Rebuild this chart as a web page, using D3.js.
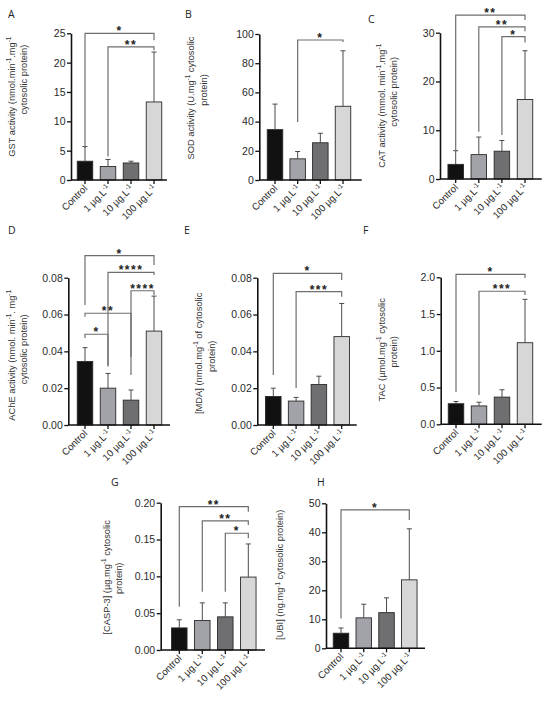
<!DOCTYPE html>
<html>
<head>
<meta charset="utf-8">
<script src="https://cdn.jsdelivr.net/npm/d3@7"></script>
<style>
  body { margin: 0; background: #fff; }
  svg { display: block; }
</style>
</head>
<body>
<div id="chart"></div>
<script>
// groups on the x axis (^{..} marks a superscript)
var groups = ["Control", "1 µg.L^{-1}", "10 µg.L^{-1}", "100 µg.L^{-1}"];
var barColors = ["#111111", "#a2a2a9", "#6f6f72", "#d7d7d7"];

// means and SD (upper error)
var gstMean = [3.2, 2.3, 2.9, 13.3];
var gstErr = [2.5, 1.2, 0.3, 8.5];
var sodMean = [34.5, 14.5, 25.5, 50.5];
var sodErr = [17.5, 5.0, 6.5, 38.0];
var catMean = [3.0, 5.0, 5.7, 16.3];
var catErr = [2.8, 3.6, 2.2, 10.0];
var acheMean = [0.0345, 0.020, 0.0135, 0.051];
var acheErr = [0.0075, 0.008, 0.0055, 0.019];
var mdaMean = [0.0155, 0.013, 0.022, 0.048];
var mdaErr = [0.0045, 0.002, 0.0045, 0.018];
var tacMean = [0.28, 0.25, 0.37, 1.11];
var tacErr = [0.03, 0.05, 0.10, 0.59];
var caspMean = [0.030, 0.040, 0.045, 0.099];
var caspErr = [0.011, 0.024, 0.019, 0.045];
var ubiMean = [5.2, 10.5, 12.3, 23.6];
var ubiErr = [1.8, 4.7, 5.1, 17.6];

// y tick values
var gstTicks = [0, 5, 10, 15, 20, 25];
var sodTicks = [0, 20, 40, 60, 80, 100];
var catTicks = [0, 10, 20, 30];
var acheTicks = [0, 0.02, 0.04, 0.06, 0.08];
var mdaTicks = [0, 0.02, 0.04, 0.06, 0.08];
var tacTicks = [0, 0.5, 1.0, 1.5, 2.0];
var caspTicks = [0, 0.05, 0.10, 0.15, 0.20];
var ubiTicks = [0, 10, 20, 30, 40, 50];

// significance comparisons [from group, to group, stars]
var gstSig = [[0, 3, "*"], [1, 3, "**"]];
var sodSig = [[1, 3, "*"]];
var catSig = [[0, 3, "**"], [1, 3, "**"], [2, 3, "*"]];
var acheSig = [[0, 3, "*"], [1, 3, "****"], [2, 3, "****"], [0, 2, "**"], [0, 1, "*"]];
var mdaSig = [[0, 3, "*"], [1, 3, "***"]];
var tacSig = [[0, 3, "*"], [1, 3, "***"]];
var caspSig = [[0, 3, "**"], [1, 3, "**"], [2, 3, "*"]];
var ubiSig = [[0, 3, "*"]];

var svg = d3.select("#chart").append("svg")
  .attr("width", 550)
  .attr("height", 705);

// panel layout: axis x, first/last bar centre, axis end, y top/bottom (px)
// brackets: [level, left leg end, right leg end] in data units
var panels = [
  { letter: "A", lx: 8, ly: 18, mean: gstMean, err: gstErr, ticks: gstTicks, fmt: "d", sig: gstSig,
    ax: 71, c0: 85, c3: 154, aend: 167, top: 33.3, bot: 180,
    br: [[25, 5.45, 23.8], [22.7, 4.0, 22.1]],
    title: ["GST activity (nmol.min^{-1}.mg^{-1}", "cytosolic protein)"], tx: [15, 27], tdy: [-10, -27] },
  { letter: "B", lx: 185, ly: 18, mean: sodMean, err: sodErr, ticks: sodTicks, fmt: "d", sig: sodSig,
    ax: 259.3, c0: 275, c3: 343, aend: 361.7, top: 34, bot: 180,
    br: [[95.9, 39.7, 94.5]],
    title: ["SOD activity (U.mg^{-1} cytosolic", "protein)"], tx: [194, 206.7], tdy: [-9, -17] },
  { letter: "C", lx: 368, ly: 23, mean: catMean, err: catErr, ticks: catTicks, fmt: "d", sig: catSig,
    ax: 440, c0: 455.7, c3: 525, aend: 541.7, top: 32.7, bot: 179,
    br: [[33.6, 5.6, 32.6], [31.2, 9.7, 30.3], [29.2, 9.0, 28.0]],
    title: ["CAT activity (mmol. min^{-1}.mg^{-1}", "cytosolic protein)"], tx: [385, 397], tdy: [0, -14] },
  { letter: "D", lx: 8, ly: 234, mean: acheMean, err: acheErr, ticks: acheTicks, fmt: ".2f", sig: acheSig,
    ax: 68.3, c0: 85, c3: 154, aend: 170, top: 277.7, bot: 425,
    br: [[0.0920, 0.0652, 0.0869], [0.0829, 0.0317, 0.0815], [0.0729, 0.0272, 0.0706],
         [0.0607, 0.0588, 0.0371], [0.0493, 0.0473, 0.0326]],
    title: ["AChE activity (nmol. min^{-1}. mg^{-1}", "cytosolic protein)"], tx: [15, 27], tdy: [4, -2] },
  { letter: "E", lx: 184, ly: 234, mean: mdaMean, err: mdaErr, ticks: mdaTicks, fmt: ".2f", sig: mdaSig,
    ax: 257.3, c0: 273.3, c3: 341.7, aend: 356.7, top: 277.7, bot: 425,
    br: [[0.0824, 0.0272, 0.0788], [0.0724, 0.0201, 0.0697]],
    title: ["[MDA] (nmol.mg^{-1} of cytosolic", "protein)"], tx: [201.7, 215], tdy: [2, 5] },
  { letter: "F", lx: 363, ly: 234, mean: tacMean, err: tacErr, ticks: tacTicks, fmt: ".1f", sig: tacSig,
    ax: 440.7, c0: 456, c3: 525, aend: 541.7, top: 277.3, bot: 424.3,
    br: [[2.04, 0.44, 1.99], [1.81, 0.40, 1.76]],
    title: ["TAC (µmol.mg^{-1} cytosolic", "protein)"], tx: [385, 397], tdy: [-1, 1] },
  { letter: "G", lx: 111, ly: 486, mean: caspMean, err: caspErr, ticks: caspTicks, fmt: ".2f", sig: caspSig,
    ax: 160.7, c0: 179.3, c3: 248.3, aend: 265, top: 502.7, bot: 650,
    br: [[0.1946, 0.0588, 0.1878], [0.1752, 0.0792, 0.1697], [0.1585, 0.0792, 0.1517]],
    title: ["[CASP-3] (µg.mg^{-1} cytosolic", "protein)"], tx: [110, 121.7], tdy: [1, 2] },
  { letter: "H", lx: 317, ly: 486, mean: ubiMean, err: ubiErr, ticks: ubiTicks, fmt: "d", sig: ubiSig,
    ax: 326, c0: 341, c3: 409.3, aend: 425, top: 503.3, bot: 648.3,
    br: [[47.7, 10.3, 44.2]],
    title: ["[UBI] (ng.mg^{-1} cytosolic protein)"], tx: [283.3], tdy: [-1] }
];

var barWidth = 15.5;
var tickFont = "'Liberation Sans', Arial, sans-serif";

// writes text with ^{..} parts raised as superscripts
function richText(sel, str, size) {
  var parts = str.split(/(\^\{[^}]*\})/).filter(function(s) { return s.length; });
  var raised = false;
  parts.forEach(function(p) {
    var isSup = p.indexOf("^{") === 0;
    var t = sel.append("tspan").text(isSup ? p.slice(2, -1) : p);
    if (isSup) {
      t.attr("font-size", size * 0.68).attr("dy", -size * 0.38);
      raised = true;
    } else {
      t.attr("font-size", size);
      if (raised) { t.attr("dy", size * 0.38); raised = false; }
    }
  });
}

panels.forEach(function(p) {
  var g = svg.append("g");

  var x = d3.scalePoint().domain(d3.range(groups.length)).range([p.c0, p.c3]);
  var y = d3.scaleLinear()
    .domain([p.ticks[0], p.ticks[p.ticks.length - 1]])
    .range([p.bot, p.top]);

  // panel letter
  g.append("text")
    .attr("x", p.lx).attr("y", p.ly)
    .attr("font-family", "'Open Sans', sans-serif")
    .attr("font-size", 10.5)
    .attr("fill", "#222")
    .text(p.letter);

  // bars
  g.selectAll("rect.bar")
    .data(p.mean)
    .enter().append("rect")
    .attr("class", "bar")
    .attr("x", function(d, i) { return x(i) - barWidth / 2; })
    .attr("y", function(d) { return y(d); })
    .attr("width", barWidth)
    .attr("height", function(d) { return p.bot - y(d); })
    .attr("fill", function(d, i) { return barColors[i]; })
    .attr("stroke", "#2a2a2a")
    .attr("stroke-width", 0.9);

  // error bars (upper only)
  var eb = g.selectAll("g.err")
    .data(p.mean)
    .enter().append("g")
    .attr("class", "err")
    .attr("stroke", "#4a4a4a")
    .attr("stroke-width", 1);
  eb.append("line")
    .attr("x1", function(d, i) { return x(i); })
    .attr("x2", function(d, i) { return x(i); })
    .attr("y1", function(d) { return y(d); })
    .attr("y2", function(d, i) { return y(d + p.err[i]); });
  eb.append("line")
    .attr("x1", function(d, i) { return x(i) - 2.5; })
    .attr("x2", function(d, i) { return x(i) + 2.5; })
    .attr("y1", function(d, i) { return y(d + p.err[i]); })
    .attr("y2", function(d, i) { return y(d + p.err[i]); });

  // y axis
  var yAxis = g.append("g")
    .attr("transform", "translate(" + p.ax + ",0)")
    .call(d3.axisLeft(y).tickValues(p.ticks).tickFormat(d3.format(p.fmt)).tickSize(4).tickSizeOuter(0));
  yAxis.select(".domain").attr("stroke", "#111").attr("stroke-width", 1.6);
  yAxis.selectAll(".tick line").attr("stroke", "#111").attr("stroke-width", 1.3);
  yAxis.selectAll(".tick text")
    .attr("font-family", tickFont)
    .attr("font-size", 10.5)
    .attr("fill", "#2a2a2a")
    .attr("x", -5.5);

  // x axis line and ticks
  g.append("line")
    .attr("x1", p.ax).attr("x2", p.aend)
    .attr("y1", p.bot).attr("y2", p.bot)
    .attr("stroke", "#111").attr("stroke-width", 1.6);
  g.selectAll("line.xt")
    .data(groups)
    .enter().append("line")
    .attr("class", "xt")
    .attr("x1", function(d, i) { return x(i); })
    .attr("x2", function(d, i) { return x(i); })
    .attr("y1", p.bot).attr("y2", p.bot + 4)
    .attr("stroke", "#111").attr("stroke-width", 1.3);

  // rotated group labels
  g.selectAll("text.xl")
    .data(groups)
    .enter().append("text")
    .attr("class", "xl")
    .attr("font-family", tickFont)
    .attr("fill", "#2a2a2a")
    .attr("text-anchor", "end")
    .attr("transform", function(d, i) {
      return "translate(" + (x(i) + 3) + "," + (p.bot + 9) + ") rotate(-45)";
    })
    .each(function(d) { richText(d3.select(this), d, 9.8); });

  // y title (one or two lines)
  var mid = (p.top + p.bot) / 2;
  p.title.forEach(function(line, k) {
    var t = g.append("text")
      .attr("font-family", tickFont)
      .attr("fill", "#333")
      .attr("text-anchor", "middle")
      .attr("transform", "translate(" + p.tx[k] + "," + (mid + p.tdy[k]) + ") rotate(-90)");
    richText(t, line, 9.3);
  });

  // significance brackets
  p.sig.forEach(function(s, k) {
    var b = p.br[k];
    var x1 = x(s[0]), x2 = x(s[1]);
    var yl = y(b[0]);
    g.append("path")
      .attr("d", "M" + x1 + "," + y(b[1]) + "V" + yl + "H" + x2 + "V" + y(b[2]))
      .attr("fill", "none")
      .attr("stroke", "#6e6e6e")
      .attr("stroke-width", 1.2);
    g.append("text")
      .attr("x", (x1 + x2) / 2)
      .attr("y", yl + 2)
      .attr("text-anchor", "middle")
      .attr("font-family", tickFont)
      .attr("font-size", 12)
      .attr("font-weight", "bold")
      .attr("letter-spacing", 1.5)
      .attr("fill", "#222")
      .text(s[2]);
  });
});
</script>
</body>
</html>
